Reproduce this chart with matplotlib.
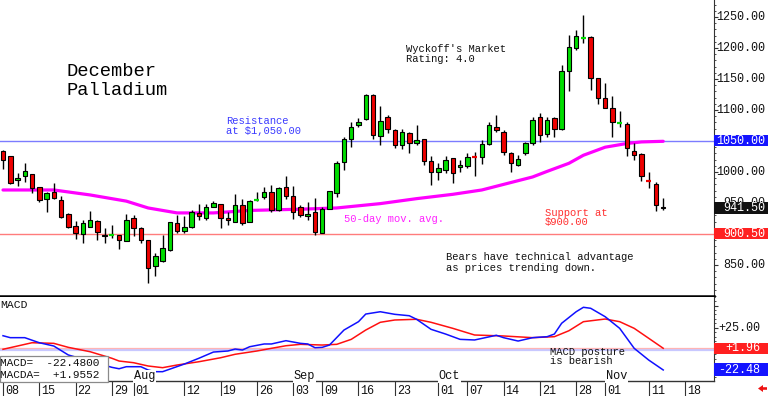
import matplotlib
matplotlib.use('Agg')
import matplotlib.pyplot as plt
import numpy as np
import pandas as pd
from matplotlib.transforms import blended_transform_factory, offset_copy, IdentityTransform
from matplotlib.patches import Rectangle, FancyArrow
from matplotlib.lines import Line2D
from matplotlib.ticker import FixedLocator, MultipleLocator

W, H = 768, 396
MONO = ['Liberation Mono', 'DejaVu Sans Mono']

# ---------------- data ----------------
trading_days = pd.bdate_range('2024-07-08', '2024-11-18')
trading_days = trading_days[trading_days != pd.Timestamp('2024-09-02')]
n_bars = 92

opens = [1034, 1025, 987, 994, 996, 975, 956, 967, 955, 933,
         913, 900, 912, 921, 899, 897.5, 898, 888, 925, 909,
         890, 849, 857, 874, 917, 905, 912, 934, 925, 944,
         948, 926, 920, 946, 920, 954.5, 959, 968, 939, 975,
         962, 943, 929.5, 935, 902, 941, 966, 1016, 1054, 1076,
         1085, 1124, 1058, 1088, 1068, 1044, 1063, 1046, 1053, 1018,
         1000.5, 1004, 1022, 1008, 1010, 1024, 1024, 1045, 1072, 1065,
         1030, 1012, 1030, 1046, 1088, 1062, 1087, 1069, 1163, 1199.5,
         1215.5, 1218, 1151, 1120, 1104, 1078.5, 1077, 1034, 1029, 985.5,
         981, 944]
highs = [1036, 1026, 999, 1015, 997, 976, 968, 983, 961, 934,
         921, 923, 937, 922, 910, 914, 899, 933, 930, 911,
         891, 870, 898, 920, 930, 929, 939, 948, 948, 953,
         949, 935, 964, 956, 955, 968, 976, 979, 975, 994,
         977, 946, 951, 958, 944, 970, 1017, 1057, 1081, 1087,
         1125, 1125, 1106, 1092, 1069, 1069, 1064, 1076, 1054, 1026,
         1014, 1025, 1023, 1019, 1031, 1033, 1052, 1080, 1092, 1068,
         1033, 1027, 1049, 1089, 1095, 1088, 1088, 1173, 1221, 1229,
         1253, 1220, 1152, 1143, 1123, 1098, 1080, 1046, 1030, 1000.5,
         984, 957.5]
lows = [1005, 981, 978, 984, 966, 952, 936, 956, 926, 909,
        892, 885, 911, 891, 886, 893, 875, 888, 896, 885,
        821, 833, 855, 873, 902, 901, 910, 923, 923, 943,
        910, 914, 919, 914, 919, 954, 956, 935, 937, 956,
        924, 927, 923, 898, 901, 940, 960, 1004, 1041, 1073,
        1084, 1054, 1044, 1063, 1038, 1037, 1030, 1044, 1011, 979,
        987, 998, 983, 1000, 1006, 994, 1013, 1044, 1065, 1027,
        1000, 1010, 1027, 1044, 1049, 1057, 1057, 1068, 1130, 1197,
        1208, 1132, 1109, 1103, 1057, 1072, 1026, 1019, 986, 974,
        937, 939]
closes = [1019, 983, 991, 1001, 974, 955, 966, 958, 927, 911,
          901, 918, 923, 904, 896, 898, 891, 923, 909, 891,
          845, 865, 877, 919, 905, 912, 935, 929, 944, 950,
          926, 923, 947, 918, 953, 955, 967, 938, 974, 962,
          935, 931, 933, 904, 940, 969, 1014, 1053, 1072, 1081,
          1124, 1060, 1083, 1070, 1044, 1065, 1046, 1052, 1017, 1000,
          1006, 1019, 999, 1012, 1024, 1023.5, 1045, 1075, 1067, 1033,
          1014, 1021, 1046, 1084, 1060, 1084, 1069, 1163, 1201, 1219,
          1216, 1151, 1120, 1104, 1080, 1079, 1038, 1027, 994, 985,
          947, 941.5]

ma_dates = ['2024-07-08', '2024-07-12', '2024-07-17', '2024-07-24', '2024-07-31',
            '2024-08-05', '2024-08-09', '2024-08-16', '2024-08-23', '2024-09-04',
            '2024-09-11', '2024-09-19', '2024-09-26', '2024-10-03', '2024-10-09',
            '2024-10-15', '2024-10-18', '2024-10-22', '2024-10-25', '2024-10-29',
            '2024-11-01', '2024-11-06', '2024-11-08', '2024-11-13']
ma_values = [971, 971, 971, 963, 953, 942, 934, 934, 938, 940,
             942, 949, 957, 964, 971, 983, 992, 1001, 1014, 1027,
             1040, 1046, 1048.5, 1049.5]

macd_dates = ['2024-07-08', '2024-07-09', '2024-07-11', '2024-07-15', '2024-07-17',
              '2024-07-19', '2024-07-29', '2024-07-30', '2024-07-31', '2024-08-02',
              '2024-08-05', '2024-08-06', '2024-08-07', '2024-08-12', '2024-08-14',
              '2024-08-16', '2024-08-20', '2024-08-21', '2024-08-22', '2024-08-23',
              '2024-08-27', '2024-08-28', '2024-08-30', '2024-09-04', '2024-09-05',
              '2024-09-06', '2024-09-09', '2024-09-10', '2024-09-12', '2024-09-16',
              '2024-09-17', '2024-09-19', '2024-09-23', '2024-09-25', '2024-09-26',
              '2024-09-30', '2024-10-02', '2024-10-04', '2024-10-08', '2024-10-11',
              '2024-10-14', '2024-10-16', '2024-10-18', '2024-10-22', '2024-10-23',
              '2024-10-24', '2024-10-28', '2024-10-29', '2024-10-30', '2024-11-01',
              '2024-11-05', '2024-11-07', '2024-11-11', '2024-11-13']
macd_values = [16.1, 13.9, 13.9, 8.2, 4.5, -5.6, -19.5, -21.1, -18.8, -18.8,
               -22.5, -24.4, -24.4, -15.8, -9.3, -2.3, -1.1, 1.1, 0.0, 3.7,
               6.8, 6.8, 10.5, 7.5, 6.8, 2.6, 3.0, 5.6, 22.5, 31.9,
               40.5, 43.1, 40.2, 38.6, 34.6, 23.3, 18.0, 12.0, 11.3, 16.6,
               13.9, 10.1, 13.9, 15.0, 18.0, 30.1, 43.1, 48.1, 47.0, 37.5,
               24.4, 1.9, -11.3, -22.48]

signal_dates = ['2024-07-08', '2024-07-10', '2024-07-12', '2024-07-17', '2024-07-19',
                '2024-07-24', '2024-07-29', '2024-07-30', '2024-08-01', '2024-08-05',
                '2024-08-07', '2024-08-09', '2024-08-14', '2024-08-19', '2024-08-21',
                '2024-08-26', '2024-08-28', '2024-08-30', '2024-09-04', '2024-09-09',
                '2024-09-11', '2024-09-13', '2024-09-17', '2024-09-19', '2024-09-23',
                '2024-09-26', '2024-09-30', '2024-10-03', '2024-10-08', '2024-10-14',
                '2024-10-18', '2024-10-23', '2024-10-25', '2024-10-29', '2024-11-01',
                '2024-11-05', '2024-11-07', '2024-11-11', '2024-11-13']
signal_values = [0.8, 4.5, 8.2, 7.5, 3.0, -1.9, -9.3, -12.4, -14.3, -18.0,
                 -19.9, -16.9, -13.2, -8.7, -4.8, -1.1, 1.9, 4.8, 6.4, 5.6,
                 6.4, 12.0, 22.5, 31.2, 33.8, 34.6, 31.2, 24.4, 16.9, 15.8,
                 13.9, 15.0, 21.7, 31.9, 34.9, 31.9, 24.4, 13.2, 1.96]

tick_dates = ['2024-07-08', '2024-07-15', '2024-07-22', '2024-07-29', '2024-08-01',
              '2024-08-12', '2024-08-19', '2024-08-26', '2024-09-03', '2024-09-09',
              '2024-09-16', '2024-09-23', '2024-10-01', '2024-10-07', '2024-10-14',
              '2024-10-21', '2024-10-28', '2024-11-01', '2024-11-11', '2024-11-18']
month_labels = ['Aug', 'Sep', 'Oct', 'Nov']
month_dates = ['2024-08-01', '2024-09-03', '2024-10-01', '2024-11-01']
price_ticks = [850, 900, 950, 1000, 1050, 1100, 1150, 1200, 1250]
resistance = 1050.00
support = 900.50
last_price = 941.50
macd_last = -22.48
signal_last = 1.96
macd_tick = 25

# ---------------- helpers ----------------
pos = {d: i for i, d in enumerate(trading_days)}
def idx(dlist):
    return np.array([pos[pd.Timestamp(d)] for d in dlist])

fig = plt.figure(figsize=(W / 100, H / 100), dpi=100)
fig.patch.set_facecolor('white')

ax = fig.add_axes([0, 1 - 296 / H, 714 / W, 296 / H])
ax2 = fig.add_axes([0, 1 - 381 / H, 714 / W, (381 - 297) / H])

for a in (ax, ax2):
    a.set_xlim(-0.4135, 98.0)
    a.set_facecolor('white')
    a.spines['top'].set_visible(False)
    a.spines['left'].set_visible(False)
    a.set_xticks([])
    a.yaxis.tick_right()
    a.tick_params(axis='y', which='both', direction='out', colors='#333333',
                  labelright=False, labelleft=False, left=False)
    a.tick_params(axis='y', which='major', length=3, width=0.8)
    a.tick_params(axis='y', which='minor', length=1.5, width=0.6)
    a.spines['right'].set_color('#333333')
    a.spines['right'].set_linewidth(0.8)

ax.set_ylim(800, 1277.4)
ax2.set_ylim(-34.9, 59.7)
ax.spines['bottom'].set_linewidth(1.8)
ax.spines['bottom'].set_color('black')
ax2.spines['bottom'].set_linewidth(1.0)
ax2.spines['bottom'].set_color('#333333')
ax.yaxis.set_major_locator(FixedLocator(price_ticks))
ax.yaxis.set_minor_locator(MultipleLocator(10))
ax2.yaxis.set_major_locator(FixedLocator([-25, 0, 25, 50]))
ax2.yaxis.set_minor_locator(MultipleLocator(5))

# ---------------- main panel ----------------
x = np.arange(n_bars)
o = np.array(opens, float); h = np.array(highs, float)
l = np.array(lows, float); c = np.array(closes, float)

ax.axhline(resistance, color='#7c7cff', lw=1.0, zorder=1)
ax.axhline(support, color='#ff7c7c', lw=1.0, zorder=1)

ax.vlines(x, l, h, color='black', lw=1.0, zorder=3)
doji = np.abs(c - o) <= 1.0
body = ~doji
cols = np.where(c >= o, '#00dd00', '#ee0000')
ax.bar(x[body], np.abs(c - o)[body], bottom=np.minimum(o, c)[body], width=0.62,
       color=cols[body], edgecolor='black', linewidth=0.8, zorder=4)
for i in x[doji]:
    ax.hlines(c[i], i - 0.35, i + 0.35, color=cols[i], lw=1.6, zorder=5)

ax.plot(idx(ma_dates), ma_values, color='#ff00ff', lw=2.3, zorder=2,
        solid_capstyle='round')

# right labels (main)
ylab = blended_transform_factory(fig.transFigure, ax.transData)
for p in price_ticks:
    if p == resistance:
        continue
    ax.text(765.5 / W, p, f'{p:.2f}', transform=ylab, ha='right', va='center',
            fontsize=8.5, family=MONO, color='#111111', zorder=6, clip_on=False)

def box_label(a, val, text, fc, hpx, ppu, xr):
    tr = blended_transform_factory(fig.transFigure, a.transData)
    hh = hpx / ppu
    r = Rectangle((714 / W, val - hh / 2), 54 / W, hh, transform=tr,
                  facecolor=fc, edgecolor='none', zorder=20, clip_on=False)
    fig.add_artist(r)
    fig.text(xr / W, 0, text, transform=tr, ha='right', va='center',
             fontsize=8.5, family=MONO, color='white', zorder=21)
    fig.texts[-1].set_position((xr / W, val))

box_label(ax, resistance, f'{resistance:.2f}', '#1414ff', 11, 0.62, 765.5)
box_label(ax, last_price, f'{last_price:.2f}', '#111111', 12, 0.62, 765.5)
box_label(ax, support, f'{support:.2f}', '#ff2020', 11, 0.62, 765.5)

def ftext(xp, yp, s, **kw):
    kw.setdefault('family', MONO)
    fig.text(xp / W, 1 - yp / H, s, va='baseline', **kw)

ftext(67, 76, 'December', fontsize=13.5, color='black')
ftext(67, 95, 'Palladium', fontsize=13.5, color='black')
ftext(226, 124, 'Resistance', fontsize=7.6, color='#3a3aff')
ftext(226, 134.5, 'at $1,050.00', fontsize=7.6, color='#3a3aff')
ftext(406.5, 51.7, "Wyckoff's Market", fontsize=7.6, color='#111111')
ftext(406.5, 62.3, 'Rating: 4.0', fontsize=7.6, color='#111111')
ftext(344.5, 222.3, '50-day mov. avg.', fontsize=7.6, color='#ff22ff')
ftext(545, 215.7, 'Support at', fontsize=7.6, color='#ff3030')
ftext(545, 225.5, '$900.00', fontsize=7.6, color='#ff3030')
ftext(446.3, 260, 'Bears have technical advantage', fontsize=7.6, color='#111111')
ftext(446.3, 270.7, 'as prices trending down.', fontsize=7.6, color='#111111')

# ---------------- MACD panel ----------------
ax2.axhline(0, color='#c8c8ff', lw=1.6, zorder=1)
ax2.axhline(signal_last, color='#ffb4b4', lw=0.9, zorder=1)
ax2.plot(idx(signal_dates), signal_values, color='#ff1010', lw=1.1, zorder=3)
ax2.plot(idx(macd_dates), macd_values, color='#1010ff', lw=1.1, zorder=4)

tr2 = blended_transform_factory(fig.transFigure, ax2.transData)
ax2.text(760 / W, macd_tick, f'+{macd_tick:.2f}', transform=tr2, ha='right',
         va='center', fontsize=8.5, family=MONO, color='#111111', clip_on=False)
box_label(ax2, signal_last, f'+{signal_last:.2f}', '#ff2020', 10.7, 0.888, 760)
box_label(ax2, macd_last, f'{macd_last:.2f}', '#1414ff', 13, 0.888, 760)

ftext(0.5, 308.3, 'MACD', fontsize=8.2, color='#111111')
ftext(550, 355, 'MACD posture', fontsize=7.6, color='#111111')
ftext(550, 364.3, 'is bearish', fontsize=7.6, color='#111111')

# value box
fig.add_artist(Rectangle((0, 1 - 381.5 / H), 108 / W, 25.5 / H,
                         transform=fig.transFigure, facecolor='white',
                         edgecolor='#8a8a8a', lw=0.9, zorder=30))
ftext(0.5, 366.2, f'MACD=  {macd_last:+.4f}'.replace('+', '+'), fontsize=8.0,
      color='#111111', zorder=31)
ftext(0.5, 378.3, 'MACDA=  +1.9552', fontsize=8.0, color='#111111', zorder=31)
fig.texts[-2].set_text('MACD=  -22.4800')

# month labels
trm = blended_transform_factory(ax2.transData, fig.transFigure)
for lab, d in zip(month_labels, month_dates):
    xi = pos[pd.Timestamp(d)]
    fig.text(xi, 1 - 379.3 / H, lab, transform=offset_copy(trm, fig=fig, x=0.5, y=0, units='dots'),
             ha='left', va='baseline', fontsize=8.6, family=MONO, color='#111111',
             zorder=8, bbox=dict(boxstyle='square,pad=0.05', fc='white', ec='none'))

# date row
for d in tick_dates:
    xi = pos[pd.Timestamp(d)]
    fig.add_artist(Line2D([xi, xi], [1 - 382 / H, 0], transform=trm,
                          color='#333333', lw=0.8))
    fig.text(xi, 1 - 393.5 / H, pd.Timestamp(d).strftime('%d'),
             transform=offset_copy(trm, fig=fig, x=2, y=0, units='dots'),
             ha='left', va='baseline', fontsize=8.5, family=MONO, color='#111111')

# red arrow bottom right
fig.add_artist(FancyArrow(767, H - 388.5, -9, 0, width=2.6, head_width=7,
                          head_length=5, length_includes_head=True,
                          transform=IdentityTransform(), color='#ee1111', lw=0))

fig.savefig('out.png', dpi=100, facecolor='white')
